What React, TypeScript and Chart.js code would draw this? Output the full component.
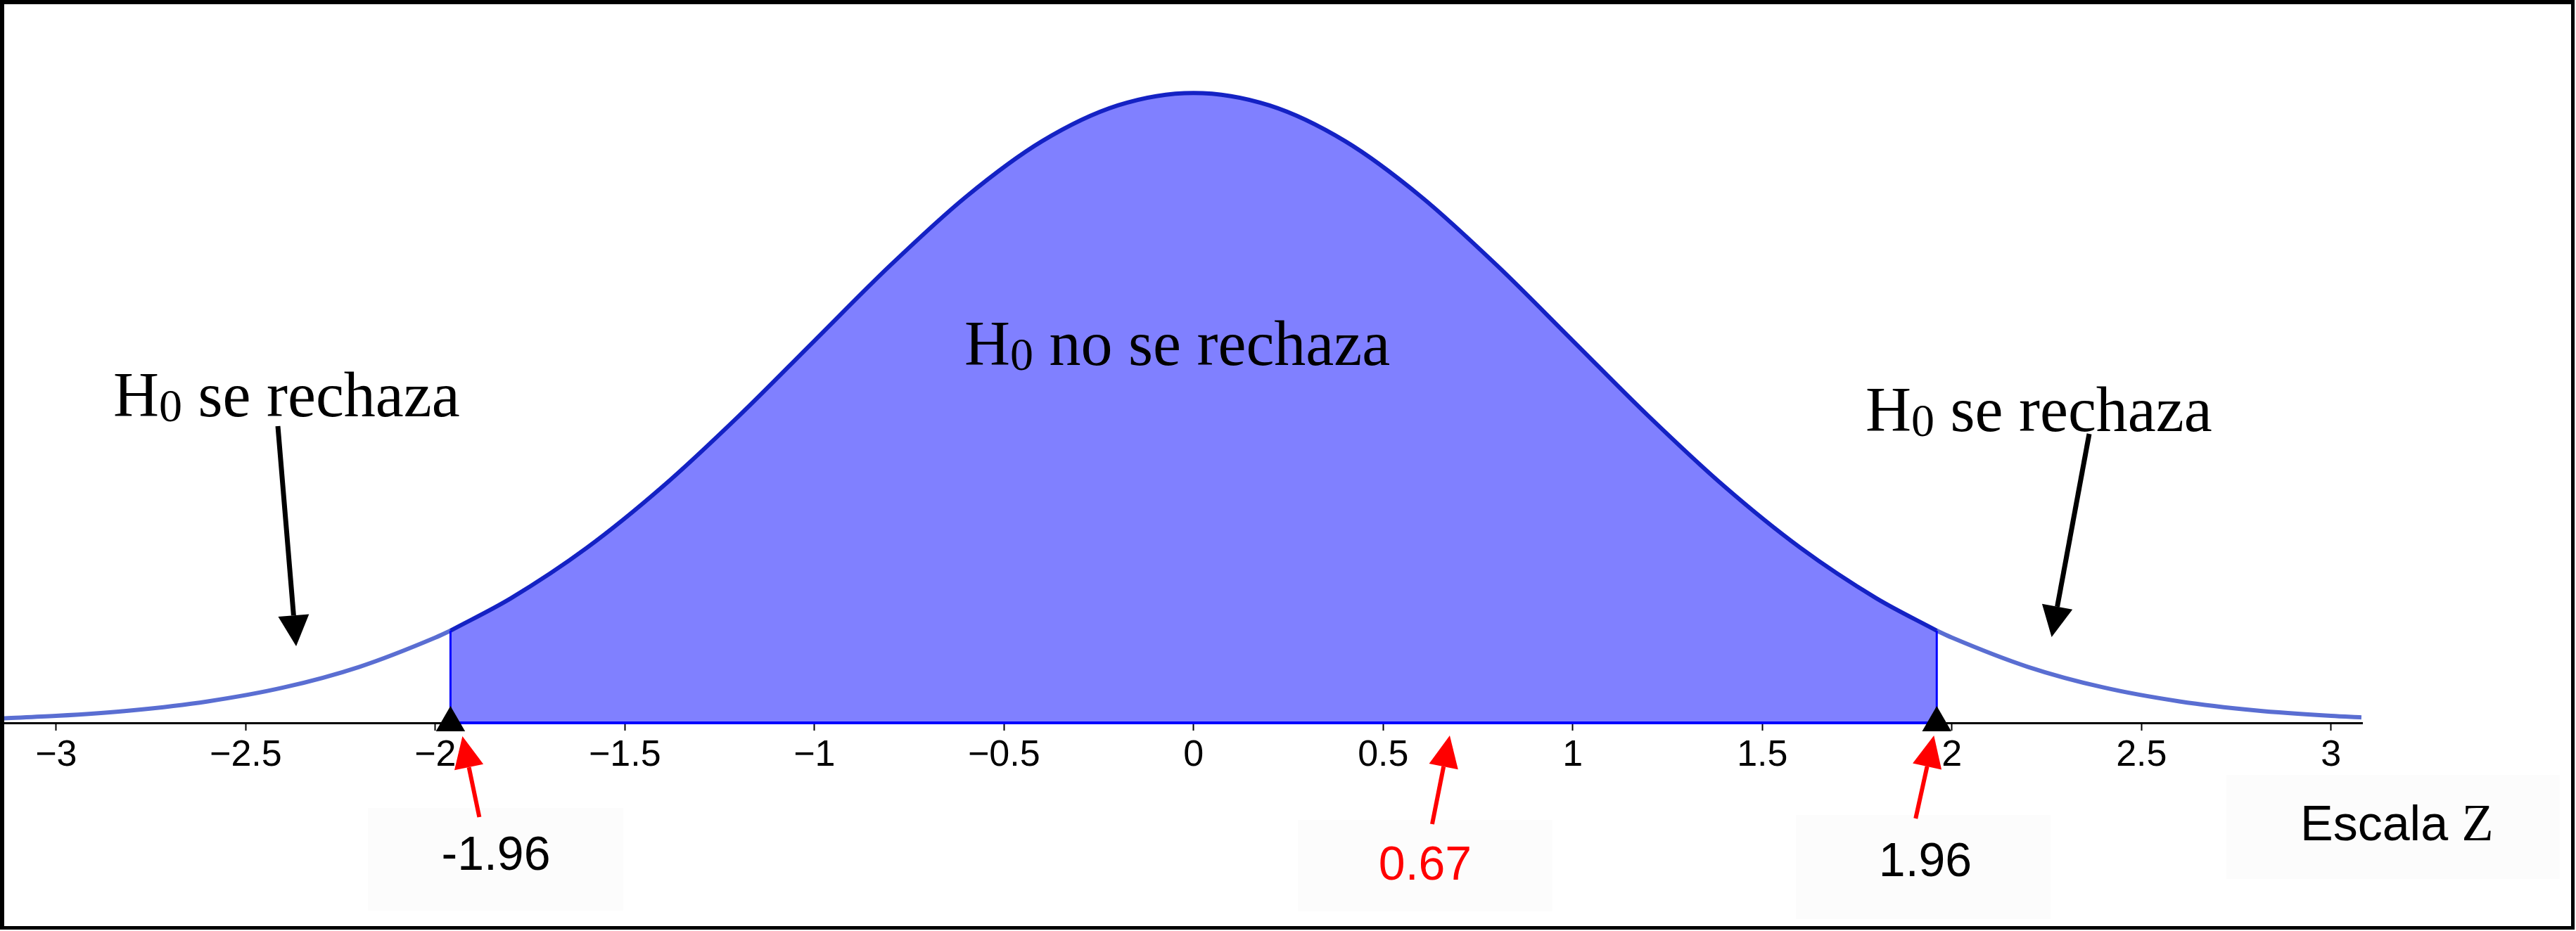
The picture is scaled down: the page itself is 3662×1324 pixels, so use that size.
import React, { useEffect, useRef } from 'react';
import { Chart, registerables } from 'chart.js';

Chart.register(...registerables);

// ---- Data ----
// Standard normal density, acceptance region (between the critical values)
const acceptZ = [-1.96, -1.8, -1.6, -1.4, -1.2, -1.0, -0.8, -0.6, -0.4, -0.2, 0, 0.2, 0.4, 0.6, 0.8, 1.0, 1.2, 1.4, 1.6, 1.8, 1.96];
const acceptDensity = [0.0584, 0.079, 0.1109, 0.1497, 0.1942, 0.242, 0.2897, 0.3332, 0.3683, 0.391, 0.3989, 0.391, 0.3683, 0.3332, 0.2897, 0.242, 0.1942, 0.1497, 0.1109, 0.079, 0.0584];
// Rejection tails
const leftTailZ = [-3.14, -3.0, -2.8, -2.6, -2.4, -2.2, -2.0, -1.96];
const leftTailDensity = [0.0029, 0.0044, 0.0079, 0.0136, 0.0224, 0.0355, 0.054, 0.0584];
const rightTailZ = [1.96, 2.0, 2.2, 2.4, 2.6, 2.8, 3.0, 3.08];
const rightTailDensity = [0.0584, 0.054, 0.0355, 0.0224, 0.0136, 0.0079, 0.0044, 0.0035];
// Critical values and observed statistic
const criticalZ = [-1.96, 1.96];
const criticalLabels = ['-1.96', '1.96'];
const observedZ = 0.67;
const observedLabel = '0.67';
// Axis
const xMin = -3.137;
const xMax = 3.082;
const yMax = 0.4533;
const xTickValues = [-3, -2.5, -2, -1.5, -1, -0.5, 0, 0.5, 1, 1.5, 2, 2.5, 3];
const axisTitleMain = 'Escala ';
const axisTitleVar = 'Z';
const rejectText = ' se rechaza';
const acceptText = ' no se rechaza';

const toPts = (xs: number[], ys: number[]) => xs.map((x, i) => ({ x, y: ys[i] }));

function drawArrow(ctx: CanvasRenderingContext2D, x1: number, y1: number, x2: number, y2: number, color: string, lw: number, headLen: number, headW: number) {
  const ang = Math.atan2(y2 - y1, x2 - x1);
  const bx = x2 - headLen * Math.cos(ang);
  const by = y2 - headLen * Math.sin(ang);
  ctx.strokeStyle = color;
  ctx.lineWidth = lw;
  ctx.lineCap = 'butt';
  ctx.beginPath();
  ctx.moveTo(x1, y1);
  ctx.lineTo(bx, by);
  ctx.stroke();
  ctx.fillStyle = color;
  ctx.beginPath();
  ctx.moveTo(x2, y2);
  ctx.lineTo(bx + (headW / 2) * Math.sin(ang), by - (headW / 2) * Math.cos(ang));
  ctx.lineTo(bx - (headW / 2) * Math.sin(ang), by + (headW / 2) * Math.cos(ang));
  ctx.closePath();
  ctx.fill();
}

function drawH0(ctx: CanvasRenderingContext2D, x: number, baseline: number, rest: string) {
  ctx.fillStyle = '#000';
  ctx.textAlign = 'left';
  ctx.textBaseline = 'alphabetic';
  ctx.font = '90px "Liberation Serif", "Times New Roman", serif';
  ctx.fillText('H', x, baseline);
  let cx = x + ctx.measureText('H').width;
  ctx.font = '66px "Liberation Serif", "Times New Roman", serif';
  ctx.fillText('0', cx, baseline + 7);
  cx += ctx.measureText('0').width;
  ctx.font = '90px "Liberation Serif", "Times New Roman", serif';
  ctx.fillText(rest, cx, baseline);
}

const annotations = {
  id: 'annotations',
  afterDraw(chart: any) {
    const { ctx } = chart;
    const xs = chart.scales.x;
    const ys = chart.scales.y;
    const px = (v: number) => xs.getPixelForValue(v);
    const py = (v: number) => ys.getPixelForValue(v);
    ctx.save();

    // region labels
    drawH0(ctx, 161, 592, rejectText);
    drawH0(ctx, 1371, 519, acceptText);
    drawH0(ctx, 2652, 613, rejectText);

    // black arrows pointing at the tails
    drawArrow(ctx, 395, 606, px(-2.367), py(0.0485), '#000', 7, 44, 44);
    drawArrow(ctx, 2970, 617, px(2.263), py(0.0543), '#000', 7, 44, 44);

    // label boxes (very light background)
    ctx.fillStyle = '#fcfcfc';
    ctx.fillRect(523, 1149, 363, 146);
    ctx.fillRect(1845, 1166, 362, 130);
    ctx.fillRect(2553, 1159, 362, 148);
    ctx.fillRect(3165, 1102, 474, 148);

    // red arrows to critical / observed values
    const axisY = ys.bottom;
    drawArrow(ctx, px(criticalZ[0]) + 41, 1162, px(criticalZ[0]) + 17, axisY + 19, '#ff0000', 6, 45, 42);
    drawArrow(ctx, px(observedZ) - 22, 1172, px(observedZ) + 3, axisY + 18, '#ff0000', 6, 45, 42);
    drawArrow(ctx, px(criticalZ[1]) - 30, 1164, px(criticalZ[1]) - 4, axisY + 18, '#ff0000', 6, 45, 42);

    // value labels
    ctx.textAlign = 'center';
    ctx.textBaseline = 'middle';
    ctx.font = '68px "Liberation Sans", Arial, sans-serif';
    ctx.fillStyle = '#000';
    ctx.fillText(criticalLabels[0], 705, 1218);
    ctx.fillText(criticalLabels[1], 2737, 1227);
    ctx.fillStyle = '#ff0000';
    ctx.fillText(observedLabel, 2026, 1232);

    // axis title
    ctx.textAlign = 'left';
    ctx.textBaseline = 'alphabetic';
    ctx.fillStyle = '#000';
    ctx.font = '70px "Liberation Sans", Arial, sans-serif';
    ctx.fillText(axisTitleMain, 3270, 1195);
    const w = ctx.measureText(axisTitleMain).width;
    ctx.font = '74px "Liberation Serif", "Times New Roman", serif';
    ctx.fillText(axisTitleVar, 3270 + w, 1195);

    // frame
    ctx.fillStyle = '#000';
    ctx.fillRect(0, 0, 3660, 6);
    ctx.fillRect(0, 0, 6, 1322);
    ctx.fillRect(3655, 0, 5, 1322);
    ctx.fillRect(0, 1317, 3660, 5);
    ctx.restore();
  },
};

export default function App() {
  const canvasRef = useRef<HTMLCanvasElement | null>(null);

  useEffect(() => {
    document.body.style.margin = '0';
    const canvas = canvasRef.current;
    if (!canvas) return;
    const dCrit = acceptDensity[0];
    const chart = new Chart(canvas, {
      type: 'line',
      data: {
        datasets: [
          {
            label: 'critical markers',
            data: criticalZ.map((z) => ({ x: z, y: 0 })),
            showLine: false,
            pointStyle: 'triangle',
            pointRadius: 24,
            pointBackgroundColor: '#000',
            pointBorderColor: '#000',
            pointBorderWidth: 0,
            clip: false,
          } as any,
          {
            label: 'left edge',
            data: [{ x: criticalZ[0], y: 0 }, { x: criticalZ[0], y: dCrit }],
            borderColor: '#0000ff',
            borderWidth: 3,
            pointRadius: 0,
            fill: false,
            clip: false,
          } as any,
          {
            label: 'right edge',
            data: [{ x: criticalZ[1], y: 0 }, { x: criticalZ[1], y: dCrit }],
            borderColor: '#0000ff',
            borderWidth: 3,
            pointRadius: 0,
            fill: false,
            clip: false,
          } as any,
          {
            label: 'base',
            data: [{ x: criticalZ[0], y: 0 }, { x: criticalZ[1], y: 0 }],
            borderColor: '#0000ff',
            borderWidth: 4,
            pointRadius: 0,
            fill: false,
            clip: false,
          } as any,
          {
            label: 'acceptance',
            data: toPts(acceptZ, acceptDensity),
            borderColor: '#1422c4',
            backgroundColor: '#8080ff',
            borderWidth: 6,
            pointRadius: 0,
            cubicInterpolationMode: 'monotone',
            fill: 'origin',
            clip: false,
          } as any,
          {
            label: 'left tail',
            data: toPts(leftTailZ, leftTailDensity),
            borderColor: '#5a6ed2',
            borderWidth: 6,
            pointRadius: 0,
            cubicInterpolationMode: 'monotone',
            fill: false,
          } as any,
          {
            label: 'right tail',
            data: toPts(rightTailZ, rightTailDensity),
            borderColor: '#5a6ed2',
            borderWidth: 6,
            pointRadius: 0,
            cubicInterpolationMode: 'monotone',
            fill: false,
          } as any,
        ],
      },
      options: {
        animation: false,
        responsive: false,
        devicePixelRatio: 1,
        layout: { autoPadding: false, padding: { top: 10, left: 6, right: 304, bottom: 0 } },
        plugins: { legend: { display: false }, tooltip: { enabled: false } },
        scales: {
          x: {
            type: 'linear',
            min: xMin,
            max: xMax,
            afterBuildTicks: (scale: any) => {
              scale.ticks = xTickValues.map((v) => ({ value: v }));
            },
            afterFit: (scale: any) => {
              scale.height = 296;
            },
            border: { display: true, color: '#000', width: 3 },
            grid: { display: true, drawOnChartArea: false, drawTicks: true, tickLength: 11, tickColor: '#000', tickWidth: 2 },
            ticks: {
              autoSkip: false,
              maxRotation: 0,
              padding: 4,
              color: '#000',
              font: { family: '"Liberation Sans", Arial, sans-serif', size: 52 },
              callback: (v: any) => {
                const n = Number(v);
                return (n < 0 ? '\u2212' : '') + String(Math.abs(n));
              },
            },
          },
          y: {
            type: 'linear',
            display: false,
            min: 0,
            max: yMax,
          },
        },
      } as any,
      plugins: [annotations],
    });
    return () => chart.destroy();
  }, []);

  return (
    <div style={{ width: 3662, height: 1324, background: '#fff' }}>
      <canvas ref={canvasRef} width={3662} height={1324} style={{ display: 'block' }} />
    </div>
  );
}
